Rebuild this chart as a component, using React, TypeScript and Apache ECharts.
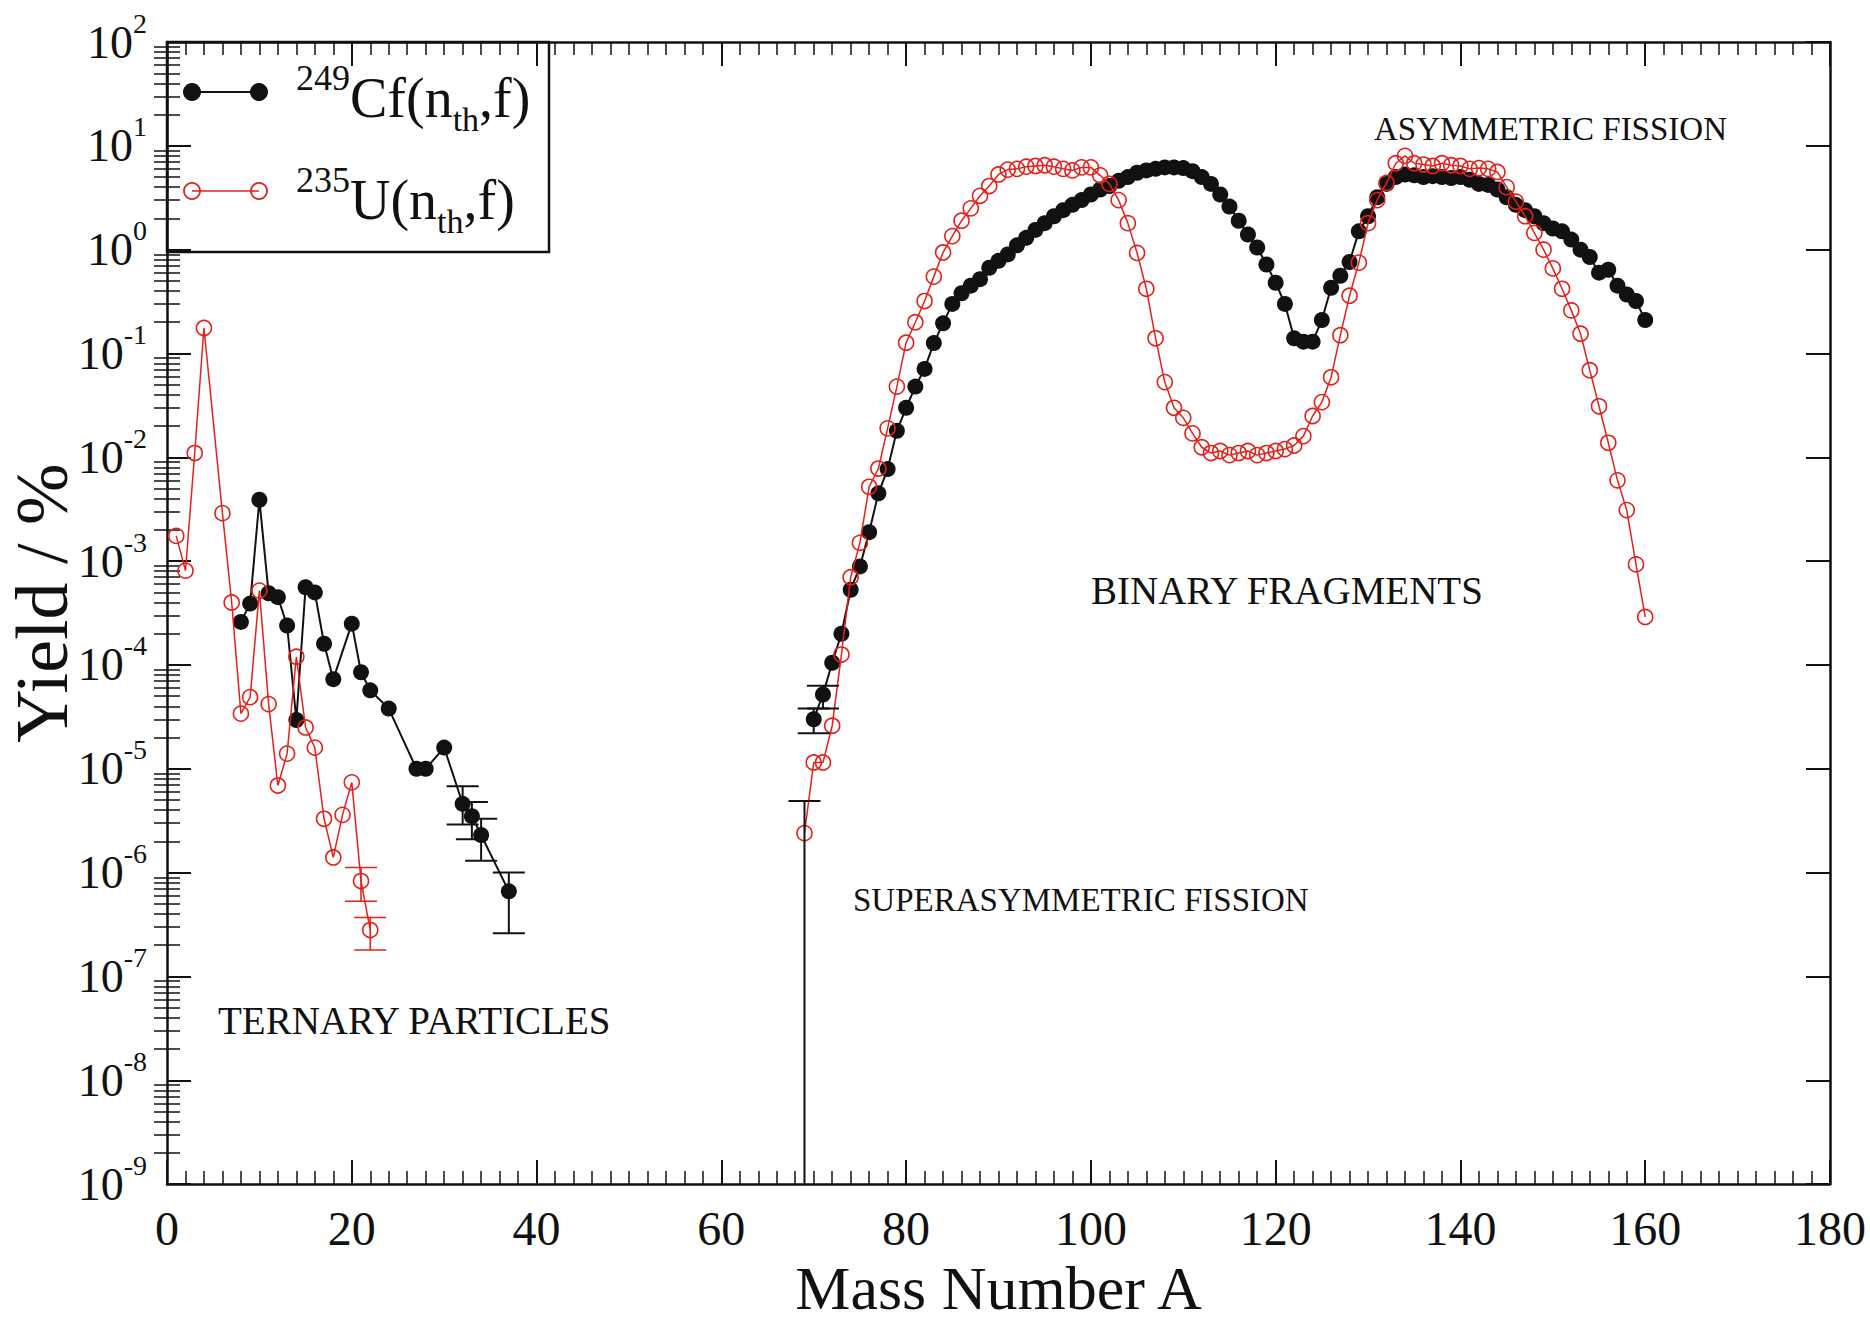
import React, { useEffect, useRef } from "react";
import * as echarts from "echarts";

const FONT = '"Liberation Serif", "Times New Roman", Times, serif';
const BLACK = "#111111";
const RED = "#e3211c";

// ---- 249Cf(n_th,f): ternary particles (mass number, yield %) ----
const CF_TERNARY_A = [8, 9, 10, 11, 12, 13, 14, 15, 16, 17, 18, 20, 21, 22, 24, 27, 28, 30, 32, 33, 34, 37];
const CF_TERNARY_Y = [
  2.6e-4, 3.9e-4, 3.9e-3, 4.9e-4, 4.5e-4, 2.4e-4, 2.95e-5, 5.6e-4, 5.0e-4, 1.6e-4, 7.3e-5,
  2.5e-4, 8.5e-5, 5.7e-5, 3.8e-5, 1.0e-5, 1.0e-5, 1.6e-5, 4.6e-6, 3.5e-6, 2.3e-6, 6.6e-7,
];

// ---- 235U(n_th,f): ternary particles ----
const U_TERNARY_A = [1, 2, 3, 4, 6, 7, 8, 9, 10, 11, 12, 13, 14, 15, 16, 17, 18, 19, 20, 21, 22];
const U_TERNARY_Y = [
  1.75e-3, 8.1e-4, 1.1e-2, 0.176, 2.9e-3, 4.0e-4, 3.4e-5, 4.9e-5, 5.2e-4, 4.2e-5, 6.9e-6,
  1.4e-5, 1.2e-4, 2.5e-5, 1.6e-5, 3.3e-6, 1.4e-6, 3.6e-6, 7.4e-6, 8.3e-7, 2.8e-7,
];

// ---- 249Cf(n_th,f): binary fragments, A = 70 ... 160 ----
const CF_BINARY_A = [
  70, 71, 72, 73, 74, 75, 76, 77, 78, 79, 80, 81, 82, 83, 84, 85, 86, 87, 88, 89,
  90, 91, 92, 93, 94, 95, 96, 97, 98, 99, 100, 101, 102, 103, 104, 105, 106, 107, 108, 109,
  110, 111, 112, 113, 114, 115, 116, 117, 118, 119, 120, 121, 122, 123, 124, 125, 126, 127, 128, 129,
  130, 131, 132, 133, 134, 135, 136, 137, 138, 139, 140, 141, 142, 143, 144, 145, 146, 147, 148, 149,
  150, 151, 152, 153, 154, 155, 156, 157, 158, 159, 160,
];
const CF_BINARY_Y = [
  3.0e-5, 5.2e-5, 1.05e-4, 2.0e-4, 5.3e-4, 8.9e-4, 1.9e-3, 4.5e-3, 7.7e-3, 0.018,
  0.030, 0.048, 0.071, 0.126, 0.195, 0.30, 0.38, 0.45, 0.52, 0.67,
  0.78, 0.90, 1.1, 1.3, 1.55, 1.8, 2.1, 2.4, 2.7, 3.0,
  3.4, 3.8, 4.1, 4.6, 5.0, 5.5, 5.8, 6.0, 6.2, 6.2,
  6.1, 5.7, 5.0, 4.3, 3.4, 2.6, 1.9, 1.4, 1.05, 0.72,
  0.48, 0.30, 0.14, 0.13, 0.13, 0.21, 0.43, 0.56, 0.76, 1.5,
  2.1, 3.2, 4.3, 5.0, 5.3, 5.2, 5.0, 5.1, 5.0, 4.9,
  5.0, 4.7, 4.3, 4.2, 3.8, 3.2, 2.7, 2.4, 2.1, 1.8,
  1.6, 1.5, 1.25, 1.0, 0.85, 0.6, 0.64, 0.45, 0.37, 0.32,
  0.21,
];

// ---- 235U(n_th,f): binary fragments, A = 69 ... 160 ----
const U_BINARY_A = [
  69, 70, 71, 72, 73, 74, 75, 76, 77, 78, 79, 80, 81, 82, 83, 84, 85, 86, 87, 88, 89,
  90, 91, 92, 93, 94, 95, 96, 97, 98, 99, 100, 101, 102, 103, 104, 105, 106, 107, 108, 109,
  110, 111, 112, 113, 114, 115, 116, 117, 118, 119, 120, 121, 122, 123, 124, 125, 126, 127, 128, 129,
  130, 131, 132, 133, 134, 135, 136, 137, 138, 139, 140, 141, 142, 143, 144, 145, 146, 147, 148, 149,
  150, 151, 152, 153, 154, 155, 156, 157, 158, 159, 160,
];
const U_BINARY_Y = [
  2.4e-6,
  1.15e-5, 1.15e-5, 2.6e-5, 1.26e-4, 7.0e-4, 1.5e-3, 5.2e-3, 7.8e-3, 0.019, 0.048,
  0.127, 0.20, 0.32, 0.55, 0.94, 1.35, 1.9, 2.5, 3.3, 4.1,
  5.3, 5.9, 6.0, 6.3, 6.4, 6.5, 6.3, 6.0, 5.8, 6.2,
  6.2, 5.2, 4.3, 3.0, 1.8, 0.93, 0.42, 0.14, 0.053, 0.030,
  0.024, 0.017, 0.0125, 0.011, 0.0115, 0.0105, 0.011, 0.0115, 0.0105, 0.011,
  0.0115, 0.012, 0.013, 0.016, 0.025, 0.034, 0.059, 0.15, 0.36, 0.75,
  1.8, 3.0, 4.4, 6.8, 8.0, 6.8, 6.6, 6.4, 6.8, 6.5,
  6.4, 6.0, 6.1, 6.0, 5.6, 4.0, 2.9, 2.1, 1.45, 1.0,
  0.66, 0.42, 0.26, 0.155, 0.069, 0.031, 0.0138, 6.0e-3, 3.1e-3, 9.3e-4,
  2.9e-4,
];

// ---- Error bars (mass number, lower, upper) ----
const CF_ERR_A = [32, 33, 34, 37, 69, 70, 71];
const CF_ERR_LO = [2.9e-6, 2.1e-6, 1.3e-6, 2.6e-7, 1e-12, 2.2e-5, 3.8e-5];
const CF_ERR_HI = [6.8e-6, 4.8e-6, 3.3e-6, 1.0e-6, 4.9e-6, 3.8e-5, 6.3e-5];
const U_ERR_A = [21, 22];
const U_ERR_LO = [5.3e-7, 1.8e-7];
const U_ERR_HI = [1.12e-6, 3.7e-7];

// ---- Axes ----
const X_MIN = 0;
const X_MAX = 180;
const X_STEP = 20;
const Y_MIN = 1e-9;
const Y_MAX = 100;
const Y_DECADES = [1e-9, 1e-8, 1e-7, 1e-6, 1e-5, 1e-4, 1e-3, 1e-2, 1e-1, 1, 10, 100];
const Y_MINOR: number[] = [];
for (let i = 0; i < Y_DECADES.length - 1; i++) {
  for (let k = 2; k <= 9; k++) Y_MINOR.push(k * Y_DECADES[i]);
}

const pairs = (a: number[], y: number[]) => a.map((m, i) => [m, y[i]]);
const triples = (a: number[], lo: number[], hi: number[]) => a.map((m, i) => [m, lo[i], hi[i]]);

function errorBarSeries(data: number[][], color: string, width: number) {
  return {
    type: "custom",
    xAxisIndex: 0,
    yAxisIndex: 0,
    data,
    encode: { x: 0, y: [1, 2] },
    z: 4,
    renderItem: (_params: any, api: any) => {
      const a = api.value(0);
      const lo = api.value(1);
      const hi = api.value(2);
      const below = lo < Y_MIN;
      const top = api.coord([a, hi]);
      const bot = api.coord([a, below ? Y_MIN : lo]);
      const half = 16;
      const style = { stroke: color, lineWidth: width };
      const children: any[] = [
        { type: "line", shape: { x1: top[0], y1: top[1], x2: bot[0], y2: bot[1] }, style },
        { type: "line", shape: { x1: top[0] - half, y1: top[1], x2: top[0] + half, y2: top[1] }, style },
      ];
      if (!below) {
        children.push({
          type: "line",
          shape: { x1: bot[0] - half, y1: bot[1], x2: bot[0] + half, y2: bot[1] },
          style,
        });
      }
      return { type: "group", children };
    },
  };
}

const axisLine = { show: true, onZero: false, lineStyle: { color: BLACK, width: 2.5 } };
const majorTick = (customValues?: number[]) => ({
  show: true,
  inside: true,
  length: 24,
  lineStyle: { color: BLACK, width: 2 },
  ...(customValues ? { customValues } : {}),
});

function xAxisDef(position: "bottom" | "top", labels: boolean) {
  return {
    type: "value",
    position,
    min: X_MIN,
    max: X_MAX,
    interval: X_STEP,
    axisLine,
    axisTick: majorTick(),
    minorTick: { show: true, splitNumber: 10, length: 13, lineStyle: { color: BLACK, width: 1.5 } },
    splitLine: { show: false },
    axisLabel: labels
      ? { show: true, fontFamily: FONT, fontSize: 48, color: BLACK, margin: 20 }
      : { show: false },
    ...(labels
      ? {
          name: "Mass Number A",
          nameLocation: "middle",
          nameGap: 62,
          nameTextStyle: { fontFamily: FONT, fontSize: 62, color: BLACK },
        }
      : {}),
  };
}

function yAxisDef(position: "left" | "right", kind: "major" | "minor", labels: boolean) {
  const base: any = {
    type: "log",
    logBase: 10,
    position,
    min: Y_MIN,
    max: Y_MAX,
    splitLine: { show: false },
    minorTick: { show: false },
  };
  if (kind === "minor") {
    return {
      ...base,
      axisLine: { show: false },
      axisTick: {
        show: true,
        inside: true,
        length: 13,
        customValues: Y_MINOR,
        lineStyle: { color: BLACK, width: 1.5 },
      },
      axisLabel: { show: false },
    };
  }
  return {
    ...base,
    axisLine,
    axisTick: majorTick(Y_DECADES),
    axisLabel: labels
      ? {
          show: true,
          customValues: Y_DECADES,
          margin: 20,
          formatter: (v: number) => `{b|10}{s|${Math.round(Math.log10(v))}}`,
          rich: {
            b: { fontFamily: FONT, fontSize: 46, color: BLACK, lineHeight: 66, verticalAlign: "middle" },
            s: { fontFamily: FONT, fontSize: 28, color: BLACK, lineHeight: 28, verticalAlign: "top" },
          },
        }
      : { show: false },
  };
}

// Plot frame in page pixels
const GRID = { left: 167, right: 40, top: 42, bottom: 122 };

const legendRich = {
  sup: { fontFamily: FONT, fontSize: 36, lineHeight: 36, verticalAlign: "top", color: BLACK },
  b: { fontFamily: FONT, fontSize: 56, lineHeight: 76, verticalAlign: "middle", color: BLACK },
  sub: { fontFamily: FONT, fontSize: 34, lineHeight: 26, verticalAlign: "bottom", color: BLACK },
};

function legendGraphic() {
  const L = GRID.left;
  const T = GRID.top;
  const row1 = T + 50;
  const row2 = T + 149;
  const x1 = L + 25;
  const x2 = L + 92;
  return {
    type: "group",
    z: 100,
    children: [
      {
        type: "rect",
        shape: { x: L, y: T, width: 382, height: 210 },
        style: { fill: "#ffffff", stroke: BLACK, lineWidth: 2.5 },
      },
      { type: "line", shape: { x1, y1: row1, x2, y2: row1 }, style: { stroke: BLACK, lineWidth: 2 } },
      { type: "circle", shape: { cx: x1, cy: row1, r: 9 }, style: { fill: BLACK } },
      { type: "circle", shape: { cx: x2, cy: row1, r: 9 }, style: { fill: BLACK } },
      { type: "line", shape: { x1, y1: row2, x2, y2: row2 }, style: { stroke: RED, lineWidth: 1.6 } },
      { type: "circle", shape: { cx: x1, cy: row2, r: 8 }, style: { fill: "none", stroke: RED, lineWidth: 1.8 } },
      { type: "circle", shape: { cx: x2, cy: row2, r: 8 }, style: { fill: "none", stroke: RED, lineWidth: 1.8 } },
      {
        type: "text",
        x: L + 129,
        y: T + 56,
        style: {
          text: "{sup|249}{b|Cf(n}{sub|th}{b|,f)}",
          rich: legendRich,
          textVerticalAlign: "middle",
          fill: BLACK,
        },
      },
      {
        type: "text",
        x: L + 129,
        y: T + 158,
        style: {
          text: "{sup|235}{b|U(n}{sub|th}{b|,f)}",
          rich: legendRich,
          textVerticalAlign: "middle",
          fill: BLACK,
        },
      },
    ],
  };
}

function note(text: string, x: number, y: number, size: number) {
  return {
    type: "text",
    x,
    y,
    z: 50,
    style: {
      text,
      font: `${size}px ${FONT}`,
      fill: BLACK,
      textAlign: "left",
      textVerticalAlign: "middle",
    },
  };
}

export default function App() {
  const ref = useRef<HTMLDivElement>(null);

  useEffect(() => {
    if (!ref.current) return;
    const chart = echarts.init(ref.current, undefined, { renderer: "svg" });

    const cfStyle = {
      type: "line",
      xAxisIndex: 0,
      yAxisIndex: 0,
      symbol: "circle",
      symbolSize: 16,
      itemStyle: { color: BLACK },
      lineStyle: { color: BLACK, width: 2 },
      z: 2,
    };
    const uStyle = {
      type: "line",
      xAxisIndex: 0,
      yAxisIndex: 0,
      symbol: "circle",
      symbolSize: 15,
      itemStyle: { color: "rgba(255,255,255,0)", borderColor: RED, borderWidth: 1.6 },
      lineStyle: { color: RED, width: 1.5 },
      z: 3,
    };

    chart.setOption({
      animation: false,
      backgroundColor: "#ffffff",
      grid: { ...GRID, containLabel: false },
      xAxis: [xAxisDef("bottom", true), xAxisDef("top", false)],
      yAxis: [
        yAxisDef("left", "major", true),
        yAxisDef("right", "major", false),
        yAxisDef("left", "minor", false),
        yAxisDef("right", "minor", false),
      ],
      series: [
        { ...cfStyle, name: "249Cf(nth,f) ternary", data: pairs(CF_TERNARY_A, CF_TERNARY_Y) },
        { ...cfStyle, name: "249Cf(nth,f) binary", data: pairs(CF_BINARY_A, CF_BINARY_Y) },
        { ...uStyle, name: "235U(nth,f) ternary", data: pairs(U_TERNARY_A, U_TERNARY_Y) },
        { ...uStyle, name: "235U(nth,f) binary", data: pairs(U_BINARY_A, U_BINARY_Y) },
        errorBarSeries(triples(CF_ERR_A, CF_ERR_LO, CF_ERR_HI), BLACK, 2),
        errorBarSeries(triples(U_ERR_A, U_ERR_LO, U_ERR_HI), RED, 1.6),
      ],
      graphic: [
        legendGraphic(),
        {
          type: "text",
          x: 42,
          y: 603,
          rotation: Math.PI / 2,
          style: {
            text: "Yield / %",
            font: `74px ${FONT}`,
            fill: BLACK,
            textAlign: "center",
            textVerticalAlign: "middle",
          },
        },
        note("ASYMMETRIC FISSION", 1374, 129, 33),
        note("BINARY FRAGMENTS", 1091, 590, 39),
        note("SUPERASYMMETRIC FISSION", 853, 900, 33),
        note("TERNARY PARTICLES", 218, 1020, 39),
      ],
    });

    return () => chart.dispose();
  }, []);

  return (
    <div
      ref={ref}
      style={{ position: "absolute", left: 0, top: 0, width: 1870, height: 1324, background: "#fff" }}
    />
  );
}
